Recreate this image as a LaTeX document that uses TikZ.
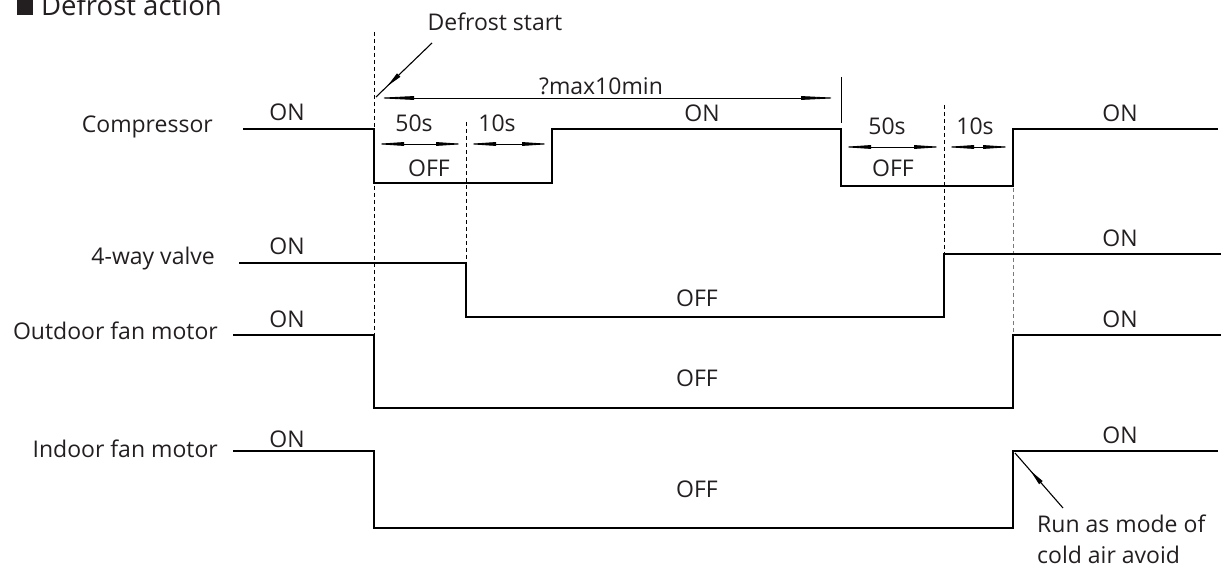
\documentclass[tikz,border=0pt]{standalone}
\usepackage{fontspec}
\setmainfont{Open Sans}
\usepackage{tikz}
\usetikzlibrary{
  arrows.meta,
  decorations.markings
}
\definecolor{dfInk}{HTML}{231F20}
\definecolor{dfGuide}{HTML}{7A7A7A}

\tikzset{
  sig/.style={line width=2.6pt, line join=miter, black},
  guide/.style={line width=0.9pt, dash pattern=on 4pt off 3pt, black},
  dimline/.style={line width=0.9pt,
    {Triangle[length=#1,width=3.6pt]}-{Triangle[length=#1,width=3.6pt]}},
  dimline/.default=30pt,
  lbl/.style={font=\fontsize{23}{31}\selectfont, text=dfInk, inner sep=0pt, anchor=base},
  rowlbl/.style={lbl, anchor=base east},
  leader/.style={line width=1.1pt, postaction={decorate},
    decoration={markings, mark=at position #1 with {\arrow{Triangle[length=16pt,width=4.5pt]}}}}
}

\begin{document}
\begin{tikzpicture}[x=1pt, y=-1pt]
  \useasboundingbox (0,0) rectangle (1221,569);
  % switching instants
  \def\tA{374} \def\tB{466} \def\tC{552}
  \def\tD{841} \def\tE{944} \def\tF{1013}

  \node[lbl, anchor=base west, font=\fontsize{27.5}{31}\selectfont] (title) at (17,16)
    {\raisebox{1pt}{\color{dfInk}\rule{16pt}{16pt}}\hspace{8pt}Defrost action};

  % signal names
  \node[rowlbl] (compLbl)  at (213,133) {Compressor};
  \node[rowlbl] (valveLbl) at (215,265) {4-way valve};
  \node[rowlbl] (odLbl)    at (218,340) {Outdoor fan motor};
  \node[rowlbl] (idLbl)    at (218,457) {Indoor fan motor};

  % guides
  \draw[guide] (\tA,32) -- (\tA,335);
  \draw[guide] (\tB,122) -- (\tB,263);
  \draw[guide] (\tE,105) -- (\tE,254);
  \draw[guide, dfGuide] (\tF,188) -- (\tF,335);
  \draw[line width=0.9pt] (\tD,77) -- (\tD,123);

  % waveforms
  \draw[sig] (243,129) -- (\tA,129) -- (\tA,183) -- (\tC,183) -- (\tC,129)
    -- (\tD,129) -- (\tD,186) -- (\tF,186) -- (\tF,129) -- (1218,129);
  \draw[sig] (239,263) -- (\tB,263) -- (\tB,317) -- (\tE,317) -- (\tE,254) -- (1221,254);
  \draw[sig] (233,335) -- (\tA,335) -- (\tA,408) -- (\tF,408) -- (\tF,335) -- (1221,335);
  \draw[sig] (233,451) -- (\tA,451) -- (\tA,528) -- (\tF,528) -- (\tF,451) -- (1218,451);

  % defrost time limit
  \coordinate (maxL) at (\tA,98);
  \coordinate (maxR) at (\tD,98);
  \draw[dimline=40pt] (maxL) -- (maxR);
  \node[lbl] (maxLbl) at (601,95) {?max10min};

  % 50s / 10s intervals
  \foreach \s/\m/\e/\y/\n in {\tA/\tB/\tC/144/1, \tD/\tE/\tF/147/2}{
    \coordinate (d\n a) at (\s,\y);
    \coordinate (d\n b) at (\m,\y);
    \coordinate (d\n c) at (\e,\y);
    \draw[dimline] (d\n a) -- (d\n b);
    \draw[dimline] (d\n b) -- (d\n c);
  }
  \node[lbl] (s50a) at (414,132) {50s};
  \node[lbl] (s10a) at (497,132) {10s};
  \node[lbl] (offA) at (429,177) {OFF};
  \node[lbl] (s50b) at (887,135) {50s};
  \node[lbl] (s10b) at (975,135) {10s};
  \node[lbl] (offB) at (893,177) {OFF};

  % state labels
  \foreach \y/\n in {121/1, 255/2, 328/3, 447/4}{
    \node[lbl] (onL\n) at (287,\y) {ON};
  }
  \foreach \y/\n in {122/1, 247/2, 327/3, 443/4}{
    \node[lbl] (onR\n) at (1120,\y) {ON};
  }
  \node[lbl] (onMid) at (702,122) {ON};
  \foreach \y/\n in {307/1, 386/2, 497/3}{
    \node[lbl] (offMid\n) at (697,\y) {OFF};
  }

  % callouts
  \node[lbl] (startLbl) at (495,31) {Defrost start};
  \coordinate (startTail) at (432,43);
  \coordinate (startTip) at (376,97);
  \draw[leader=0.8] (startTail) -- (startTip);

  \node[lbl, anchor=base west, align=left] (coldLbl) at (1037,563)
    {Run as mode of\\cold air avoid};
  \coordinate (coldTail) at (1063,508);
  \coordinate (coldTip) at (1015,453);
  \draw[leader=0.68] (coldTail) -- (coldTip);
\end{tikzpicture}
\end{document}
